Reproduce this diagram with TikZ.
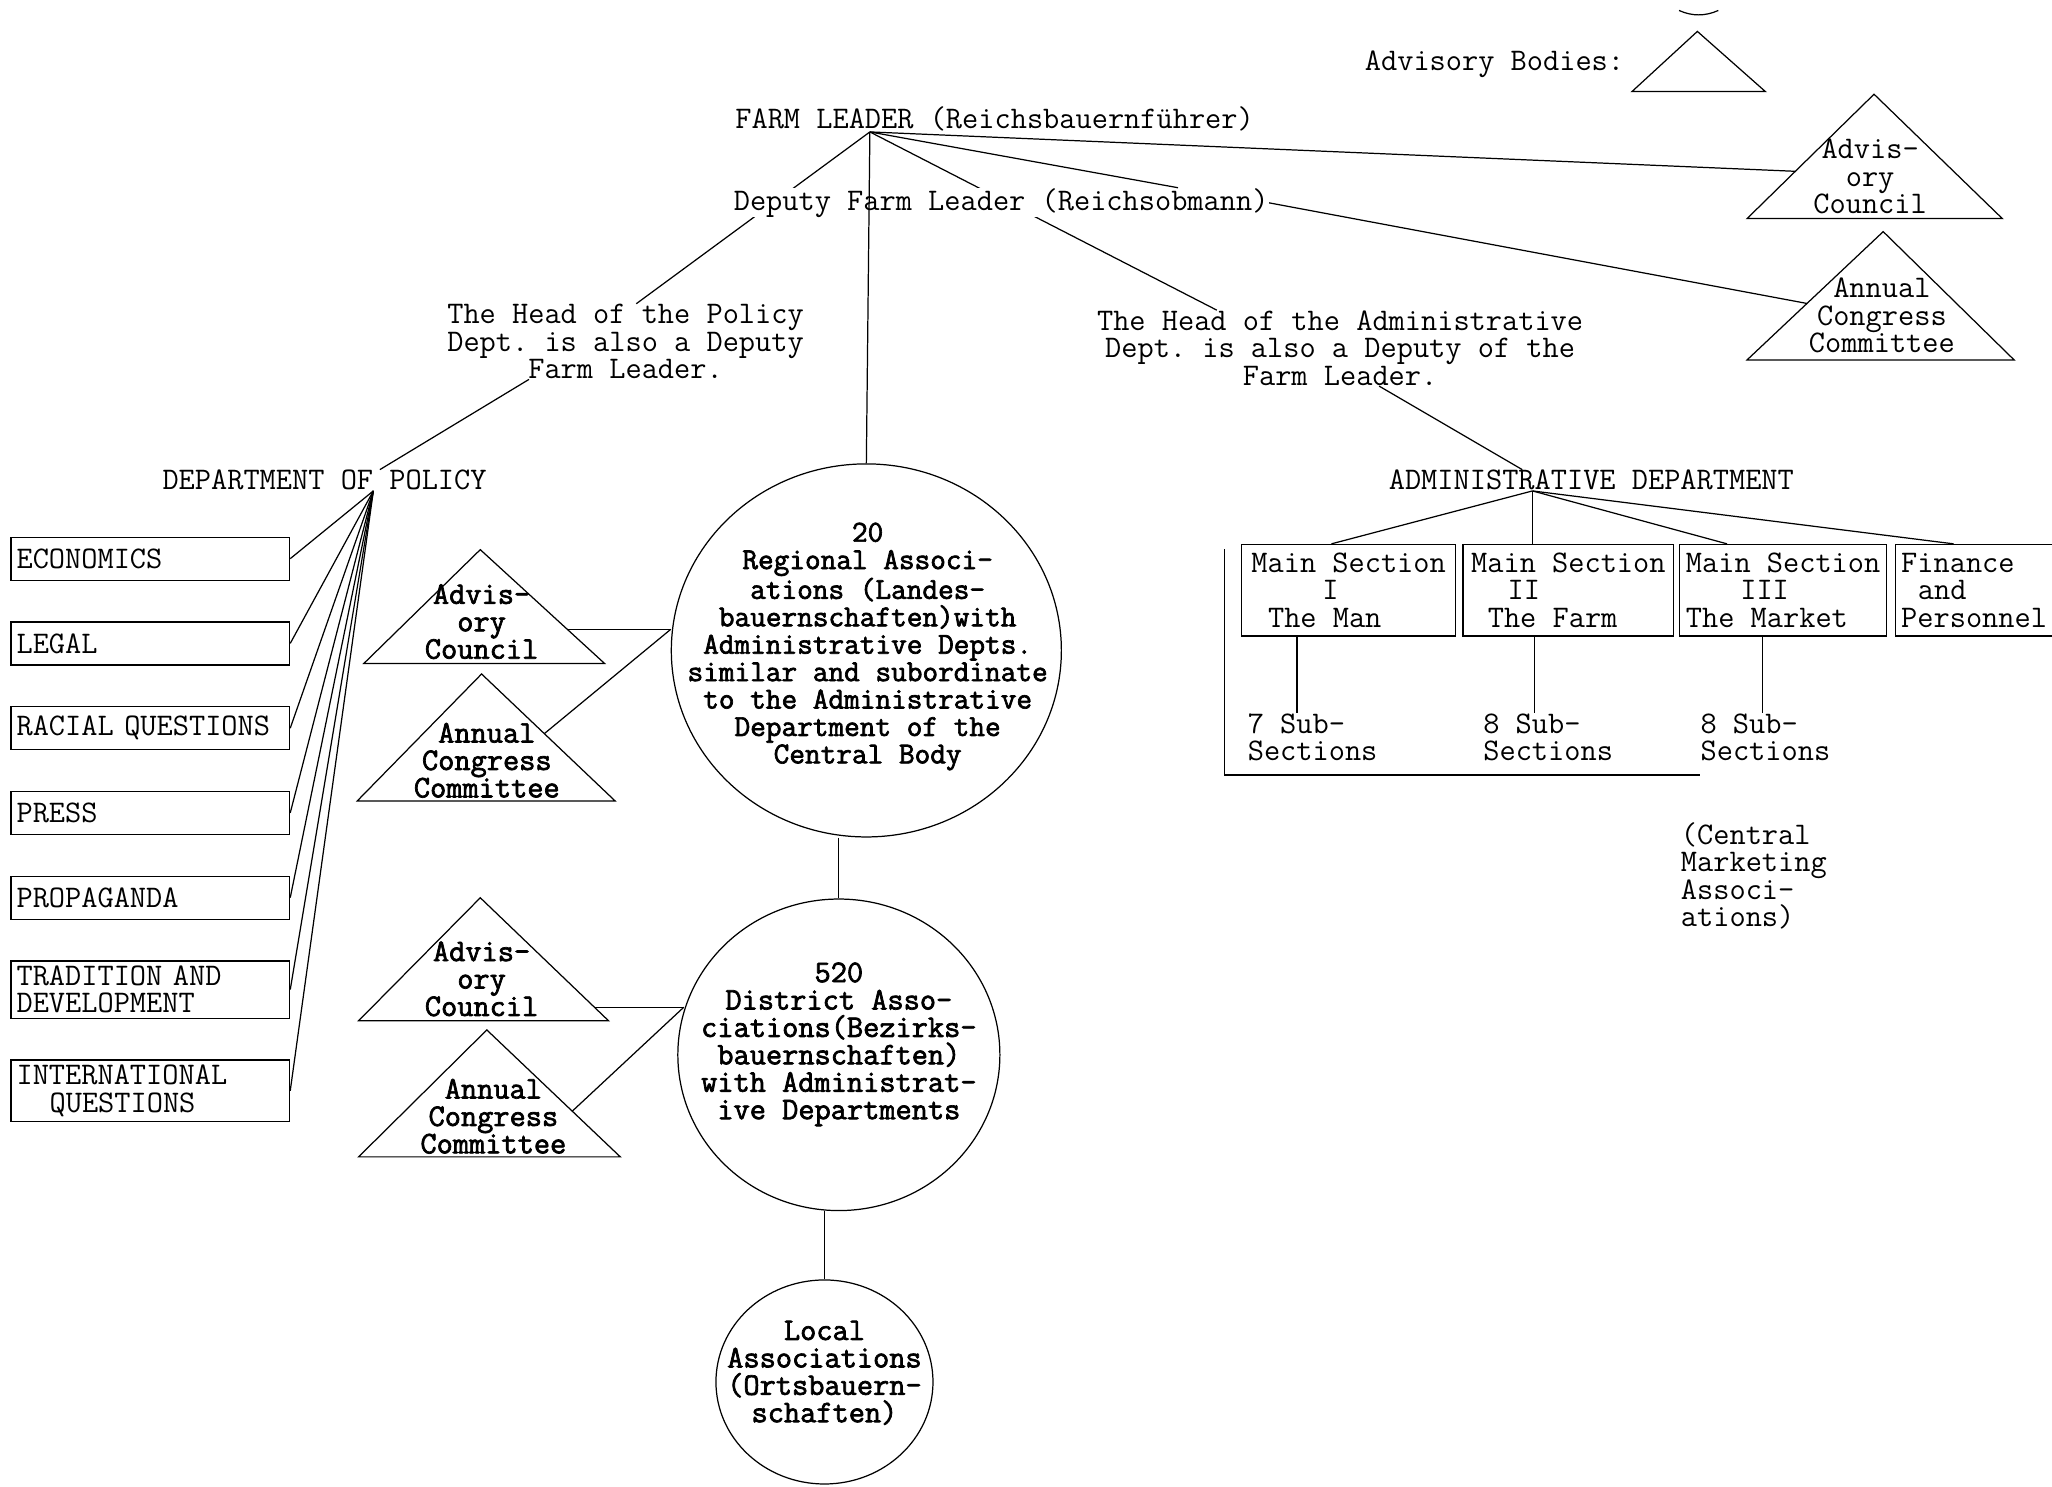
\documentclass[tikz,border=0pt]{standalone}
\usepackage{fontspec}
\setmainfont{Latin Modern Mono}[AutoFakeBold=2.2]
\usetikzlibrary{shapes.geometric, positioning, calc}

\newcommand{\typesize}{\fontsize{17.9pt}{15.6pt}\selectfont\frenchspacing}
\newcommand{\bodytri}[4]{%
  \coordinate (#1-a) at #2;
  \coordinate (#1-l) at #3;
  \coordinate (#1-r) at #4;
  \draw[tribody] (#1-a) -- (#1-l) -- (#1-r) -- cycle;}

\tikzset{caption/.style={align=center, inner sep=0pt}}
\tikzset{note/.style={align=left, inner sep=0pt, anchor=north west}}
\tikzset{topic/.style={draw, align=left, text width=53.5mm, inner xsep=1.1mm, inner ysep=1mm, minimum height=8.6mm}}
\tikzset{section/.style={draw, align=left, minimum height=18.3mm, inner sep=0.5mm}}
\tikzset{assoc/.style={draw, ellipse, inner sep=0pt}}
\tikzset{bodytext/.style={align=center, inner sep=0pt, font=\typesize\bfseries}}
\tikzset{tribody/.style={line join=miter}}

\begin{document}
\begin{tikzpicture}[x=0.2617mm, y=-0.2617mm, font=\typesize, line width=0.7pt, node distance=8.1mm]
\useasboundingbox (0,0) rectangle (1568,1136);

% key
\draw (1283,8) .. controls (1293,12.5) and (1303,12.5) .. (1313,8);
\node[caption] (bodies) at (1142,49) {Advisory Bodies:};
\bodytri{legend}{(1297,24)}{(1247,70)}{(1349,70)}

% leaders
\node[caption] (farm) at (760,91) {FARM LEADER (Reichsbauernführer)};
\coordinate (flhub) at ($(farm.south west)!0.26!(farm.south east)$);
\node[caption] (polhead) at (478,261) {The Head of the Policy\\Dept. is also a Deputy\\Farm Leader.};
\node[caption] (admhead) at (1024,266) {The Head of the Administrative\\Dept. is also a Deputy of the\\Farm Leader.};
\draw (flhub) -- ($(polhead.north west)!0.53!(polhead.north east)$);
\draw (flhub) -- ($(admhead.north west)!0.247!(admhead.north east)$);
\node[caption, fill=white] (deputy) at (765,155) {Deputy Farm Leader (Reichsobmann)};

\bodytri{advT}{(1432,72)}{(1335,167)}{(1530,167)}
\bodytri{annT}{(1439,177)}{(1335,275)}{(1539,275)}
\node[caption] (advT-text) at (1429,135) {Advis-\\ory\\Council};
\node[caption] (annT-text) at (1438,241) {Annual\\Congress\\Committee};

\draw (flhub) -- ($(deputy.north west)!0.83!(deputy.north east)$);
\draw (flhub) -- ($(advT-a)!0.62!(advT-l)$);
\draw (deputy.east) -- ($(annT-a)!0.56!(annT-l)$);

% policy side
\node[caption] (poldept) at (248,367) {DEPARTMENT OF POLICY};
\coordinate (polhub) at ($(poldept.south west)!0.65!(poldept.south east)$);
\draw ($(polhead.south west)!0.23!(polhead.south east)$) -- ($(poldept.north west)!0.67!(poldept.north east)$);

\node[topic, anchor=north west] (econ) at (8,410) {ECONOMICS};
\node[topic, below=of econ] (legal) {LEGAL};
\node[topic, below=of legal] (racial) {RACIAL QUESTIONS};
\node[topic, below=of racial] (press) {PRESS};
\node[topic, below=of press] (propa) {PROPAGANDA};
\node[topic, below=of propa] (trad) {TRADITION AND\\DEVELOPMENT};
\node[topic, below=of trad] (intl) {INTERNATIONAL\\\hspace*{1.05em}QUESTIONS};
\foreach \dept in {econ,legal,racial,press,propa,trad,intl}
  \draw (polhub) -- (\dept.east);

% associations
\node[assoc, minimum width=78mm, minimum height=74.6mm] (regional) at (662,497) {};
\node[bodytext, font=\fontsize{17.3pt}{15.6pt}\selectfont\frenchspacing\bfseries] (regional-text) at (663,494) {20\\Regional Associ-\\ations (Landes-\\bauernschaften)with\\Administrative Depts.\\similar and subordinate\\to the Administrative\\Department of the\\Central Body};
\node[assoc, minimum width=64.4mm, minimum height=62.3mm] (district) at (641,806) {};
\node[bodytext] (district-text) at (641,798) {520\\District Asso-\\ciations(Bezirks-\\bauernschaften)\\with Administrat-\\ive Departments};
\node[assoc, minimum width=43.4mm, minimum height=40.8mm] (local) at (630,1056) {};
\node[bodytext] (local-text) at (630,1049) {Local\\Associations\\(Ortsbauern-\\schaften)};

\draw (flhub) -- (regional.north);
\draw (regional.south -| district.north) -- (district.north);
\draw (district.south -| local.north) -- (local.north);

\bodytri{advA}{(367,420)}{(278,507)}{(462,507)}
\bodytri{annA}{(368,515)}{(273,612)}{(470,612)}
\bodytri{advB}{(367,686)}{(274,780)}{(465,780)}
\bodytri{annB}{(372,787)}{(274,884)}{(474,884)}
\node[bodytext] (advA-text) at (368,475) {Advis-\\ory\\Council};
\node[bodytext] (annA-text) at (372,581) {Annual\\Congress\\Committee};
\node[bodytext] (advB-text) at (368,748) {Advis-\\ory\\Council};
\node[bodytext] (annB-text) at (377,853) {Annual\\Congress\\Committee};

\coordinate (advA-e) at ($(advA-a)!0.7!(advA-r)$);
\coordinate (regional-w) at (advA-e -| regional.west);
\draw (advA-e) -- (regional-w);
\draw ($(annA-a)!0.47!(annA-r)$) -- (regional-w);
\coordinate (advB-e) at ($(advB-a)!0.89!(advB-r)$);
\coordinate (district-w) at ($(advB-e -| district.west)+(5,0)$);
\draw (advB-e) -- (district-w);
\draw ($(annB-a)!0.64!(annB-r)$) -- (district-w);

% administrative side
\node[caption] (admdept) at (1216,367) {ADMINISTRATIVE DEPARTMENT};
\coordinate (admhub) at ($(admdept.south west)!0.355!(admdept.south east)$);
\draw ($(admhead.south west)!0.58!(admhead.south east)$) -- ($(admdept.north west)!0.33!(admdept.north east)$);

\node[section, minimum width=42.7mm] (sec1) at (1030.5,451) {Main Section\\\hspace*{2.26em}I\\\hspace*{0.53em}The Man};
\node[section, minimum width=42.1mm, right=1.3mm of sec1] (sec2) {Main Section\\\hspace*{1.16em}II\\\hspace*{0.53em}The Farm};
\node[section, minimum width=41.3mm, right=1.0mm of sec2] (sec3) {Main Section\\\hspace*{1.73em}III\\The Market};
\node[section, minimum width=31.4mm, right=1.6mm of sec3] (sec4) {Finance\\\hspace*{0.53em}and\\Personnel};

\draw (admhub) -- ($(sec1.north west)!0.42!(sec1.north east)$);
\draw (admhub) -- (admhub |- sec2.north);
\draw (admhub) -- ($(sec3.north west)!0.23!(sec3.north east)$);
\draw (admhub) -- ($(sec4.north west)!0.37!(sec4.north east)$);

\node[note] (sub1) at (953,545) {7 Sub-\\Sections};
\node[note] (sub2) at (1133,545) {8 Sub-\\Sections};
\node[note] (sub3) at (1299,545) {8 Sub-\\Sections};
\node[note] (market) at (1284,628) {(Central\\Marketing\\Associ-\\ations)};

\coordinate (sec1-foot) at ($(sec1.south west)!0.26!(sec1.south east)$);
\coordinate (sec2-foot) at ($(sec2.south west)!0.34!(sec2.south east)$);
\coordinate (sec3-foot) at ($(sec3.south west)!0.40!(sec3.south east)$);
\draw (sec1-foot) -- (sec1-foot |- sub1.north);
\draw (sec2-foot) -- (sec2-foot |- sub2.north);
\draw (sec3-foot) -- (sec3-foot |- sub3.north);
\draw ($(sec1.north west)+(-13,4)$) |- ($(sub3.south west)+(0,10)$);

\end{tikzpicture}
\end{document}
